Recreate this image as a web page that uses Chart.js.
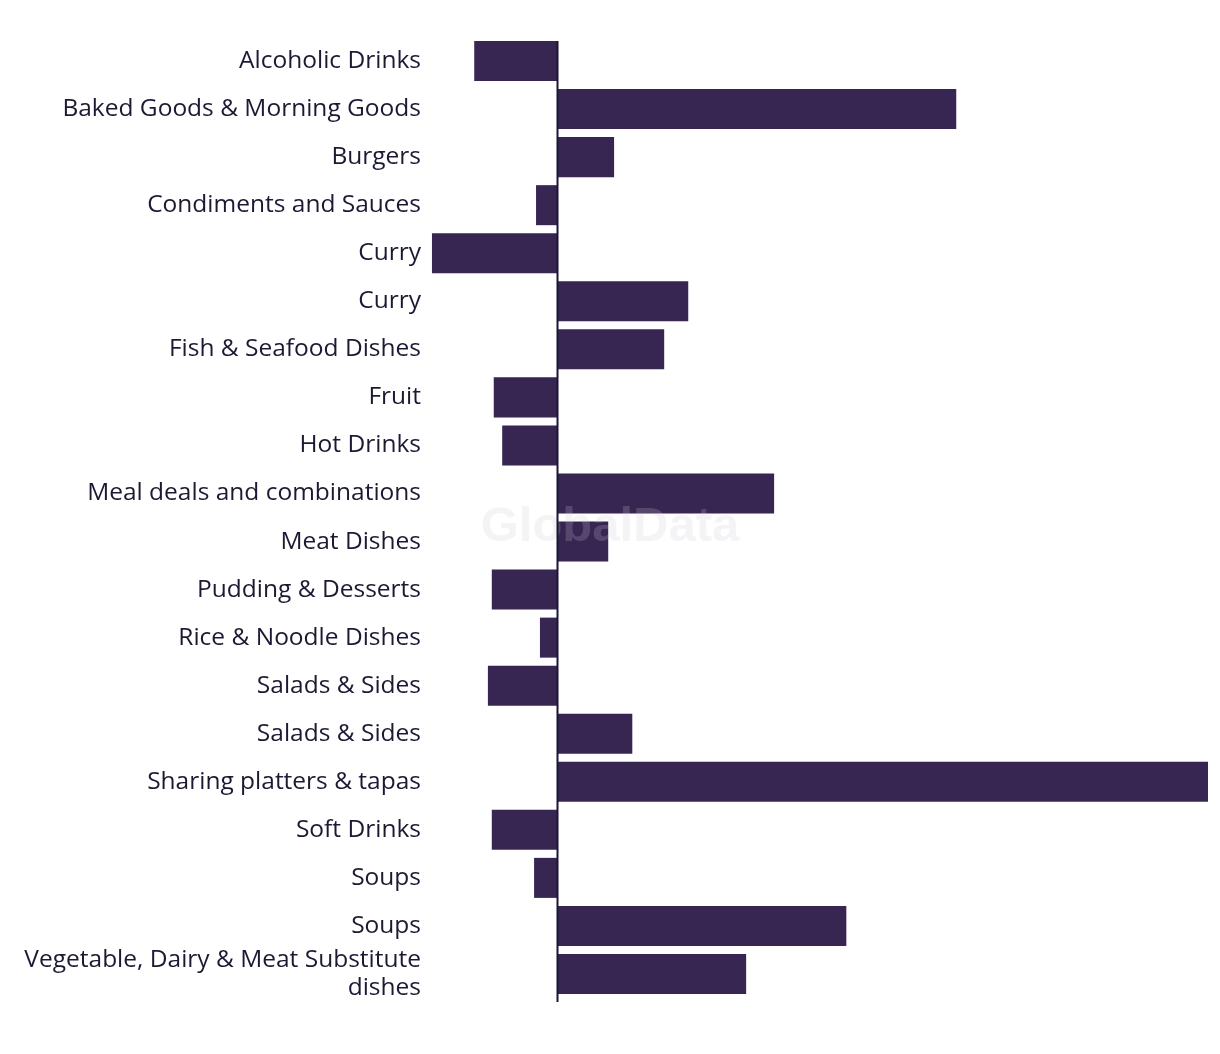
<!DOCTYPE html>
<html>
<head>
<meta charset="utf-8">
<script src="https://cdn.jsdelivr.net/npm/chart.js@4/dist/chart.umd.min.js"></script>
<style>
  html, body { margin: 0; padding: 0; background: #ffffff; }
  #wrap { width: 1220px; height: 1054px; position: relative; }
</style>
</head>
<body>
<div id="wrap"><canvas id="c" width="1220" height="1054"></canvas></div>
<script>
const categories = [
  'Alcoholic Drinks',
  'Baked Goods & Morning Goods',
  'Burgers',
  'Condiments and Sauces',
  'Curry',
  'Curry',
  'Fish & Seafood Dishes',
  'Fruit',
  'Hot Drinks',
  'Meal deals and combinations',
  'Meat Dishes',
  'Pudding & Desserts',
  'Rice & Noodle Dishes',
  'Salads & Sides',
  'Salads & Sides',
  'Sharing platters & tapas',
  'Soft Drinks',
  'Soups',
  'Soups',
  ['Vegetable, Dairy & Meat Substitute', 'dishes']
];
const values = [
  -12.8, 61.3, 8.7, -3.3, -19.3, 20.1, 16.4, -9.8, -8.5, 33.3,
  7.8, -10.1, -2.7, -10.7, 11.5, 100, -10.1, -3.6, 44.4, 29.0
];
const axisMin = -19.6;
const axisMax = 100;
const watermarkText = 'GlobalData';

const barColor = '#372552';
const textColor = '#1c1a33';
const labelFamily = '"Open Sans", sans-serif';

// pick a font size so the widest single-line label spans ~358px like the reference
const mctx = document.createElement('canvas').getContext('2d');
mctx.font = '20px ' + labelFamily;
const w20 = mctx.measureText('Baked Goods & Morning Goods').width;
const labelSize = Math.round(20 * 358 / w20 * 10) / 10;
const labelLineHeight = 28 / labelSize;

const zeroLine = {
  id: 'zeroLine',
  afterDatasetsDraw(chart) {
    const x = chart.scales.x.getPixelForValue(0);
    const ctx = chart.ctx;
    ctx.save();
    ctx.strokeStyle = '#1a1633';
    ctx.lineWidth = 2;
    ctx.beginPath();
    ctx.moveTo(Math.round(x) + 0.5, chart.chartArea.top + 4);
    ctx.lineTo(Math.round(x) + 0.5, chart.chartArea.bottom + 4);
    ctx.stroke();
    ctx.restore();
  }
};

const watermark = {
  id: 'watermark',
  afterDatasetsDraw(chart) {
    const ctx = chart.ctx;
    ctx.save();
    ctx.font = 'bold 49px "Liberation Sans", Arial, sans-serif';
    ctx.fillStyle = 'rgba(204,204,212,0.21)';
    ctx.textAlign = 'center';
    ctx.textBaseline = 'middle';
    ctx.fillText(watermarkText, 610, 527);
    ctx.restore();
  }
};

new Chart(document.getElementById('c'), {
  type: 'bar',
  data: {
    labels: categories,
    datasets: [{
      data: values,
      backgroundColor: barColor,
      borderWidth: 0,
      barPercentage: 0.833,
      categoryPercentage: 1.0
    }]
  },
  options: {
    indexAxis: 'y',
    responsive: false,
    animation: false,
    layout: { padding: { top: 34, bottom: 56, right: 12, left: 0 } },
    plugins: {
      legend: { display: false },
      tooltip: { enabled: false }
    },
    scales: {
      x: {
        min: axisMin,
        max: axisMax,
        display: false,
        grid: { display: false }
      },
      y: {
        grid: { display: false, drawTicks: false },
        border: { display: false },
        afterFit(scale) { scale.width = 430; },
        ticks: {
          padding: 9,
          color: textColor,
          font: { family: labelFamily, size: labelSize, lineHeight: labelLineHeight },
          autoSkip: false
        }
      }
    }
  },
  plugins: [watermark, zeroLine]
});
</script>
</body>
</html>
